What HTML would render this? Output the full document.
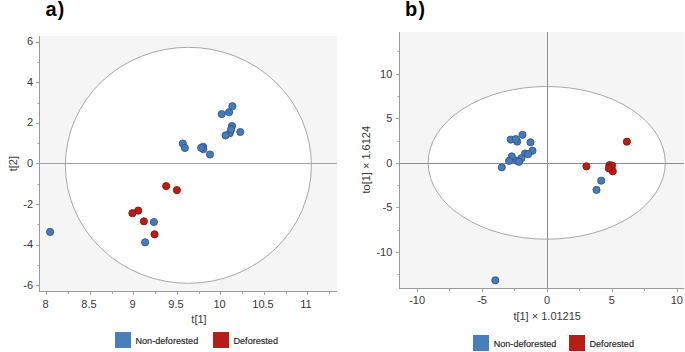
<!DOCTYPE html>
<html><head><meta charset="utf-8"><style>
html,body{margin:0;padding:0;background:#fff;width:685px;height:352px;overflow:hidden}
svg{display:block}
text{font-family:"Liberation Sans",sans-serif;fill:#383838}
.t{font-size:11px}
.l{font-size:9.1px;fill:#1e1e1e;stroke:#1e1e1e;stroke-width:0.15px}
.h{font-size:20px;font-weight:bold;fill:#000}
</style></head><body>
<svg width="685" height="352" viewBox="0 0 685 352">
<rect x="40" y="36" width="297" height="255" fill="#f5f5f5"/>
<ellipse cx="188.4" cy="165.3" rx="123" ry="118" fill="#fff" stroke="#a8a8a8" stroke-width="1"/>
<line x1="40" y1="163.5" x2="337" y2="163.5" stroke="#a3a3a3" stroke-width="1"/>
<line x1="39.5" y1="36" x2="39.5" y2="292" stroke="#9a9a9a" stroke-width="1"/>
<line x1="39" y1="291.5" x2="337" y2="291.5" stroke="#9a9a9a" stroke-width="1"/>
<line x1="36" y1="285.5" x2="39" y2="285.5" stroke="#a4a4a4"/>
<text x="33" y="288.68" text-anchor="end" class="t">-6</text>
<line x1="37.5" y1="265.5" x2="39" y2="265.5" stroke="#a4a4a4"/>
<line x1="36" y1="245.5" x2="39" y2="245.5" stroke="#a4a4a4"/>
<text x="33" y="248.12" text-anchor="end" class="t">-4</text>
<line x1="37.5" y1="224.5" x2="39" y2="224.5" stroke="#a4a4a4"/>
<line x1="36" y1="204.5" x2="39" y2="204.5" stroke="#a4a4a4"/>
<text x="33" y="207.56" text-anchor="end" class="t">-2</text>
<line x1="37.5" y1="184.5" x2="39" y2="184.5" stroke="#a4a4a4"/>
<line x1="36" y1="163.5" x2="39" y2="163.5" stroke="#a4a4a4"/>
<text x="33" y="167" text-anchor="end" class="t">0</text>
<line x1="37.5" y1="143.5" x2="39" y2="143.5" stroke="#a4a4a4"/>
<line x1="36" y1="123.5" x2="39" y2="123.5" stroke="#a4a4a4"/>
<text x="33" y="126.44" text-anchor="end" class="t">2</text>
<line x1="37.5" y1="103.5" x2="39" y2="103.5" stroke="#a4a4a4"/>
<line x1="36" y1="82.5" x2="39" y2="82.5" stroke="#a4a4a4"/>
<text x="33" y="85.88" text-anchor="end" class="t">4</text>
<line x1="37.5" y1="62.5" x2="39" y2="62.5" stroke="#a4a4a4"/>
<line x1="36" y1="42.5" x2="39" y2="42.5" stroke="#a4a4a4"/>
<text x="33" y="45.32" text-anchor="end" class="t">6</text>
<line x1="46.5" y1="292" x2="46.5" y2="295" stroke="#a4a4a4"/>
<text x="45.5" y="308" text-anchor="middle" class="t">8</text>
<line x1="68.5" y1="292" x2="68.5" y2="294" stroke="#a4a4a4"/>
<line x1="90.5" y1="292" x2="90.5" y2="295" stroke="#a4a4a4"/>
<text x="89" y="308" text-anchor="middle" class="t">8.5</text>
<line x1="112.5" y1="292" x2="112.5" y2="294" stroke="#a4a4a4"/>
<line x1="133.5" y1="292" x2="133.5" y2="295" stroke="#a4a4a4"/>
<text x="132.5" y="308" text-anchor="middle" class="t">9</text>
<line x1="155.5" y1="292" x2="155.5" y2="294" stroke="#a4a4a4"/>
<line x1="177.5" y1="292" x2="177.5" y2="295" stroke="#a4a4a4"/>
<text x="176" y="308" text-anchor="middle" class="t">9.5</text>
<line x1="199.5" y1="292" x2="199.5" y2="294" stroke="#a4a4a4"/>
<line x1="220.5" y1="292" x2="220.5" y2="295" stroke="#a4a4a4"/>
<text x="219.5" y="308" text-anchor="middle" class="t">10</text>
<line x1="242.5" y1="292" x2="242.5" y2="294" stroke="#a4a4a4"/>
<line x1="264.5" y1="292" x2="264.5" y2="295" stroke="#a4a4a4"/>
<text x="263" y="308" text-anchor="middle" class="t">10.5</text>
<line x1="286.5" y1="292" x2="286.5" y2="294" stroke="#a4a4a4"/>
<line x1="307.5" y1="292" x2="307.5" y2="295" stroke="#a4a4a4"/>
<text x="305.9" y="308" text-anchor="middle" class="t">11</text>
<line x1="329.5" y1="292" x2="329.5" y2="294" stroke="#a4a4a4"/>
<text x="199" y="322.5" text-anchor="middle" class="t">t[1]</text>
<text transform="translate(17.2,163.6) rotate(-90)" text-anchor="middle" class="t">t[2]</text>
<circle cx="232.4" cy="106.2" r="3.6" fill="#4879b9" stroke="#2a558c" stroke-width="0.85"/>
<circle cx="229.1" cy="112.2" r="3.6" fill="#4879b9" stroke="#2a558c" stroke-width="0.85"/>
<circle cx="221.7" cy="114.1" r="3.6" fill="#4879b9" stroke="#2a558c" stroke-width="0.85"/>
<circle cx="232" cy="126" r="3.6" fill="#4879b9" stroke="#2a558c" stroke-width="0.85"/>
<circle cx="229.8" cy="133.2" r="3.6" fill="#4879b9" stroke="#2a558c" stroke-width="0.85"/>
<circle cx="231.2" cy="129.4" r="3.6" fill="#4879b9" stroke="#2a558c" stroke-width="0.85"/>
<circle cx="225.6" cy="135.4" r="3.6" fill="#4879b9" stroke="#2a558c" stroke-width="0.85"/>
<circle cx="240.3" cy="132" r="3.6" fill="#4879b9" stroke="#2a558c" stroke-width="0.85"/>
<circle cx="182.8" cy="143.5" r="3.6" fill="#4879b9" stroke="#2a558c" stroke-width="0.85"/>
<circle cx="184.9" cy="148" r="3.6" fill="#4879b9" stroke="#2a558c" stroke-width="0.85"/>
<circle cx="203.2" cy="146.8" r="3.6" fill="#4879b9" stroke="#2a558c" stroke-width="0.85"/>
<circle cx="203.4" cy="149.2" r="3.6" fill="#4879b9" stroke="#2a558c" stroke-width="0.85"/>
<circle cx="201.1" cy="147.8" r="3.6" fill="#4879b9" stroke="#2a558c" stroke-width="0.85"/>
<circle cx="210" cy="154.5" r="3.6" fill="#4879b9" stroke="#2a558c" stroke-width="0.85"/>
<circle cx="153.9" cy="222" r="3.6" fill="#4879b9" stroke="#2a558c" stroke-width="0.85"/>
<circle cx="145.1" cy="242.3" r="3.6" fill="#4879b9" stroke="#2a558c" stroke-width="0.85"/>
<circle cx="50.1" cy="231.9" r="3.6" fill="#4879b9" stroke="#2a558c" stroke-width="0.85"/>
<circle cx="166.2" cy="186.1" r="3.6" fill="#b81e14" stroke="#7e130d" stroke-width="0.85"/>
<circle cx="176.9" cy="190.1" r="3.6" fill="#b81e14" stroke="#7e130d" stroke-width="0.85"/>
<circle cx="138.2" cy="210.6" r="3.6" fill="#b81e14" stroke="#7e130d" stroke-width="0.85"/>
<circle cx="132.4" cy="213.2" r="3.6" fill="#b81e14" stroke="#7e130d" stroke-width="0.85"/>
<circle cx="143.9" cy="221.3" r="3.6" fill="#b81e14" stroke="#7e130d" stroke-width="0.85"/>
<circle cx="154.5" cy="234.3" r="3.6" fill="#b81e14" stroke="#7e130d" stroke-width="0.85"/>
<text x="45.5" y="15.6" class="h">a<tspan dx="1" style="font-size:19.5px">)</tspan></text>
<rect x="115" y="332" width="16" height="16" fill="#4a7ebb"/>
<text x="135.5" y="343.6" class="l">Non-deforested</text>
<rect x="213" y="332" width="16" height="16" fill="#b41f17"/>
<text x="233.5" y="343.6" class="l">Deforested</text>
<rect x="400" y="32" width="284" height="256" fill="#f5f5f5"/>
<ellipse cx="546.75" cy="162.85" rx="118.55" ry="76.35" fill="#fff" stroke="#a8a8a8" stroke-width="1"/>
<line x1="400" y1="163.5" x2="684" y2="163.5" stroke="#8c8c8c" stroke-width="1"/>
<line x1="547.5" y1="32" x2="547.5" y2="288" stroke="#8c8c8c" stroke-width="1"/>
<line x1="399.5" y1="32" x2="399.5" y2="289" stroke="#9a9a9a" stroke-width="1"/>
<line x1="399" y1="288.5" x2="684" y2="288.5" stroke="#9a9a9a" stroke-width="1"/>
<line x1="397.5" y1="274.5" x2="399" y2="274.5" stroke="#a4a4a4"/>
<line x1="396" y1="252.5" x2="399" y2="252.5" stroke="#a4a4a4"/>
<text x="392.3" y="256" text-anchor="end" class="t">-10</text>
<line x1="397.5" y1="230.5" x2="399" y2="230.5" stroke="#a4a4a4"/>
<line x1="396" y1="207.5" x2="399" y2="207.5" stroke="#a4a4a4"/>
<text x="392.3" y="211.45" text-anchor="end" class="t">-5</text>
<line x1="397.5" y1="185.5" x2="399" y2="185.5" stroke="#a4a4a4"/>
<line x1="396" y1="163.5" x2="399" y2="163.5" stroke="#a4a4a4"/>
<text x="392.3" y="166.9" text-anchor="end" class="t">0</text>
<line x1="397.5" y1="141.5" x2="399" y2="141.5" stroke="#a4a4a4"/>
<line x1="396" y1="118.5" x2="399" y2="118.5" stroke="#a4a4a4"/>
<text x="392.3" y="122.35" text-anchor="end" class="t">5</text>
<line x1="397.5" y1="96.5" x2="399" y2="96.5" stroke="#a4a4a4"/>
<line x1="396" y1="74.5" x2="399" y2="74.5" stroke="#a4a4a4"/>
<text x="392.3" y="77.8" text-anchor="end" class="t">10</text>
<line x1="397.5" y1="51.5" x2="399" y2="51.5" stroke="#a4a4a4"/>
<line x1="417.5" y1="289" x2="417.5" y2="292" stroke="#a4a4a4"/>
<text x="417.1" y="304" text-anchor="middle" class="t">-10</text>
<line x1="449.5" y1="289" x2="449.5" y2="291" stroke="#a4a4a4"/>
<line x1="482.5" y1="289" x2="482.5" y2="292" stroke="#a4a4a4"/>
<text x="482.03" y="304" text-anchor="middle" class="t">-5</text>
<line x1="514.5" y1="289" x2="514.5" y2="291" stroke="#a4a4a4"/>
<line x1="547.5" y1="289" x2="547.5" y2="292" stroke="#a4a4a4"/>
<text x="546.95" y="304" text-anchor="middle" class="t">0</text>
<line x1="579.5" y1="289" x2="579.5" y2="291" stroke="#a4a4a4"/>
<line x1="612.5" y1="289" x2="612.5" y2="292" stroke="#a4a4a4"/>
<text x="611.88" y="304" text-anchor="middle" class="t">5</text>
<line x1="644.5" y1="289" x2="644.5" y2="291" stroke="#a4a4a4"/>
<line x1="677.5" y1="289" x2="677.5" y2="292" stroke="#a4a4a4"/>
<text x="676.8" y="304" text-anchor="middle" class="t">10</text>
<text x="547.2" y="319.5" text-anchor="middle" class="t">t[1] × 1.01215</text>
<text transform="translate(370.2,159.7) rotate(-90)" text-anchor="middle" class="t">to[1] × 1.6124</text>
<circle cx="522.5" cy="134.8" r="3.6" fill="#4879b9" stroke="#2a558c" stroke-width="0.85"/>
<circle cx="510.7" cy="139.6" r="3.6" fill="#4879b9" stroke="#2a558c" stroke-width="0.85"/>
<circle cx="517.2" cy="141.6" r="3.6" fill="#4879b9" stroke="#2a558c" stroke-width="0.85"/>
<circle cx="515.8" cy="139.1" r="3.6" fill="#4879b9" stroke="#2a558c" stroke-width="0.85"/>
<circle cx="530.5" cy="142.3" r="3.6" fill="#4879b9" stroke="#2a558c" stroke-width="0.85"/>
<circle cx="532.5" cy="150.7" r="3.6" fill="#4879b9" stroke="#2a558c" stroke-width="0.85"/>
<circle cx="525" cy="153.5" r="3.6" fill="#4879b9" stroke="#2a558c" stroke-width="0.85"/>
<circle cx="528.2" cy="154.1" r="3.6" fill="#4879b9" stroke="#2a558c" stroke-width="0.85"/>
<circle cx="521.4" cy="158.2" r="3.6" fill="#4879b9" stroke="#2a558c" stroke-width="0.85"/>
<circle cx="516.8" cy="160.7" r="3.6" fill="#4879b9" stroke="#2a558c" stroke-width="0.85"/>
<circle cx="519.1" cy="161.8" r="3.6" fill="#4879b9" stroke="#2a558c" stroke-width="0.85"/>
<circle cx="511.8" cy="156.4" r="3.6" fill="#4879b9" stroke="#2a558c" stroke-width="0.85"/>
<circle cx="509.1" cy="160.9" r="3.6" fill="#4879b9" stroke="#2a558c" stroke-width="0.85"/>
<circle cx="501.8" cy="167.3" r="3.6" fill="#4879b9" stroke="#2a558c" stroke-width="0.85"/>
<circle cx="601.2" cy="180.7" r="3.6" fill="#4879b9" stroke="#2a558c" stroke-width="0.85"/>
<circle cx="596.5" cy="189.9" r="3.6" fill="#4879b9" stroke="#2a558c" stroke-width="0.85"/>
<circle cx="495.3" cy="280.3" r="3.6" fill="#4879b9" stroke="#2a558c" stroke-width="0.85"/>
<circle cx="626.9" cy="141.7" r="3.6" fill="#b81e14" stroke="#7e130d" stroke-width="0.85"/>
<circle cx="586.4" cy="166.3" r="3.6" fill="#b81e14" stroke="#7e130d" stroke-width="0.85"/>
<circle cx="609.5" cy="165.2" r="3.6" fill="#b81e14" stroke="#7e130d" stroke-width="0.85"/>
<circle cx="612.1" cy="165.5" r="3.6" fill="#b81e14" stroke="#7e130d" stroke-width="0.85"/>
<circle cx="612.8" cy="171.3" r="3.6" fill="#b81e14" stroke="#7e130d" stroke-width="0.85"/>
<circle cx="608.8" cy="168.3" r="3.6" fill="#b81e14" stroke="#7e130d" stroke-width="0.85"/>
<text x="405" y="16" class="h">b<tspan dx="1.2" style="font-size:19.5px">)</tspan></text>
<rect x="473" y="335" width="16" height="16" fill="#4a7ebb"/>
<text x="493.7" y="346.9" class="l">Non-deforested</text>
<rect x="569" y="335" width="16" height="16" fill="#b41f17"/>
<text x="589.5" y="346.9" class="l">Deforested</text>
</svg>
</body></html>
